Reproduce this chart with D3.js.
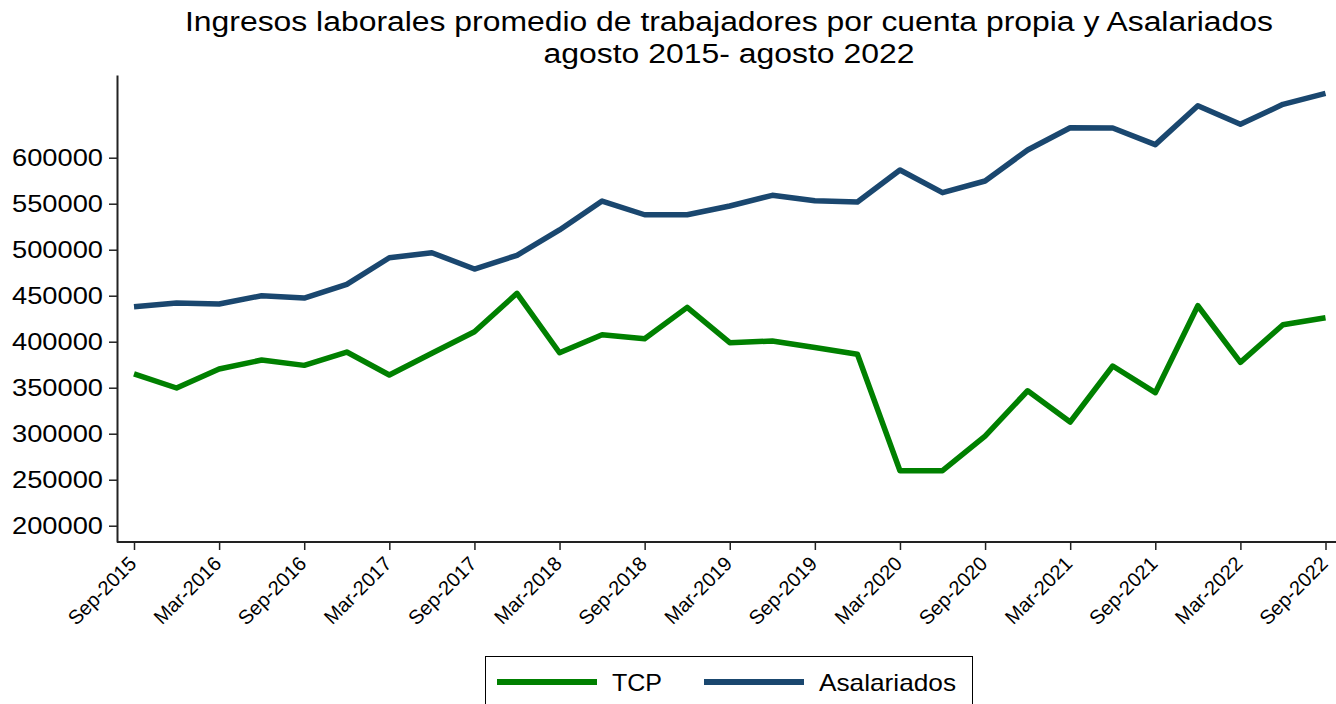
<!DOCTYPE html>
<html>
<head>
<meta charset="utf-8">
<script src="https://cdn.jsdelivr.net/npm/d3@7"></script>
<style>
  body { margin: 0; background: #fff; }
  svg { display: block; font-family: "Liberation Sans", Arial, sans-serif; }
</style>
</head>
<body>
<svg id="chart" width="1336" height="704"></svg>
<script>
// quarterly periods, Sep-2015 .. Sep-2022
var periods = [
  "Sep-2015", "Dec-2015", "Mar-2016", "Jun-2016", "Sep-2016", "Dec-2016",
  "Mar-2017", "Jun-2017", "Sep-2017", "Dec-2017", "Mar-2018", "Jun-2018",
  "Sep-2018", "Dec-2018", "Mar-2019", "Jun-2019", "Sep-2019", "Dec-2019",
  "Mar-2020", "Jun-2020", "Sep-2020", "Dec-2020", "Mar-2021", "Jun-2021",
  "Sep-2021", "Dec-2021", "Mar-2022", "Jun-2022", "Sep-2022"
];

var tcp = [
  365000, 349700, 370300, 380100, 374300, 388800, 363800, 387400, 410900,
  452600, 388000, 407600, 403300, 437300, 398900, 400800, 393800, 386300,
  259800, 259800, 297500, 346700, 312700, 373600, 344600, 439100, 377600,
  418500, 426100
];

var asalariados = [
  438000, 442000, 441000, 450000, 447500, 462400, 491300, 496700, 479000,
  493900, 521500, 552900, 538000, 538000, 547500, 559100, 553300, 551900,
  586600, 562000, 574700, 608400, 632600, 632300, 614200, 656500, 636300,
  658000, 670000
];

var tickLabels = periods.filter(function(d, i) { return i % 2 === 0; });
var yTicks = [200000, 250000, 300000, 350000, 400000, 450000, 500000, 550000, 600000];

var series = [
  { name: "TCP", values: tcp, color: "#008000" },
  { name: "Asalariados", values: asalariados, color: "#1a476f" }
];

var svg = d3.select("#chart");

var xScale = d3.scalePoint()
  .domain(periods)
  .range([134, 1325.5]);

var yScale = d3.scaleLinear()
  .domain([182300, 689900])
  .range([542, 75]);

// title (the reference font is drawn a bit wider than Liberation Sans)
svg.append("text")
  .attr("x", 729).attr("y", 31)
  .attr("text-anchor", "middle")
  .attr("font-size", 27)
  .attr("textLength", 1088)
  .attr("lengthAdjust", "spacingAndGlyphs")
  .text("Ingresos laborales promedio de trabajadores por cuenta propia y Asalariados");
svg.append("text")
  .attr("x", 729).attr("y", 63)
  .attr("text-anchor", "middle")
  .attr("font-size", 27)
  .attr("textLength", 371)
  .attr("lengthAdjust", "spacingAndGlyphs")
  .text("agosto 2015- agosto 2022");

// axes
var xAxis = svg.append("g")
  .attr("transform", "translate(0," + 542 + ")")
  .call(d3.axisBottom(xScale).tickValues(tickLabels).tickSize(8).tickSizeOuter(0));
xAxis.select(".domain").attr("d", "M117,0H1336").attr("stroke", "#222").attr("stroke-width", 2);
xAxis.selectAll(".tick line").attr("stroke", "#222").attr("stroke-width", 1.5);
xAxis.selectAll(".tick text")
  .attr("font-size", 20)
  .attr("font-family", "Liberation Sans, Arial, sans-serif")
  .attr("fill", "#000")
  .attr("text-anchor", "end")
  .attr("x", 0).attr("y", 0)
  .attr("dy", null)
  .attr("transform", "translate(3,23) rotate(-45)");

var yAxis = svg.append("g")
  .attr("transform", "translate(117,0)")
  .call(d3.axisLeft(yScale).tickValues(yTicks).tickSize(8).tickSizeOuter(0).tickFormat(d3.format("d")));
yAxis.select(".domain").attr("stroke", "#222").attr("stroke-width", 2);
yAxis.selectAll(".tick line").attr("stroke", "#222").attr("stroke-width", 1.5);
yAxis.selectAll(".tick text")
  .attr("font-size", 24)
  .attr("font-family", "Liberation Sans, Arial, sans-serif")
  .attr("fill", "#000")
  .attr("x", -14)
  .attr("textLength", 91)
  .attr("lengthAdjust", "spacingAndGlyphs");

// lines
var line = d3.line()
  .x(function(d, i) { return xScale(periods[i]); })
  .y(function(d) { return yScale(d); });

svg.selectAll("path.series")
  .data(series)
  .enter()
  .append("path")
    .attr("class", "series")
    .attr("fill", "none")
    .attr("stroke", function(d) { return d.color; })
    .attr("stroke-width", 5.5)
    .attr("stroke-linejoin", "round")
    .attr("d", function(d) { return line(d.values); });

// legend
var legend = svg.append("g").attr("transform", "translate(485,656)");
legend.append("rect")
  .attr("x", 0.5).attr("y", 0.5)
  .attr("width", 487).attr("height", 60)
  .attr("fill", "#fff").attr("stroke", "#000").attr("stroke-width", 1);

var items = legend.selectAll("g.item")
  .data(series)
  .enter()
  .append("g")
    .attr("class", "item")
    .attr("transform", function(d, i) { return "translate(" + [12, 219][i] + ",26)"; });
items.append("line")
  .attr("x1", 0).attr("x2", 100)
  .attr("stroke", function(d) { return d.color; })
  .attr("stroke-width", 6);
items.append("text")
  .attr("x", 115).attr("y", 9)
  .attr("font-size", 24)
  .attr("fill", "#000")
  .attr("textLength", function(d) { return d.name === "TCP" ? 50 : 137; })
  .attr("lengthAdjust", "spacingAndGlyphs")
  .text(function(d) { return d.name; });
</script>
</body>
</html>
